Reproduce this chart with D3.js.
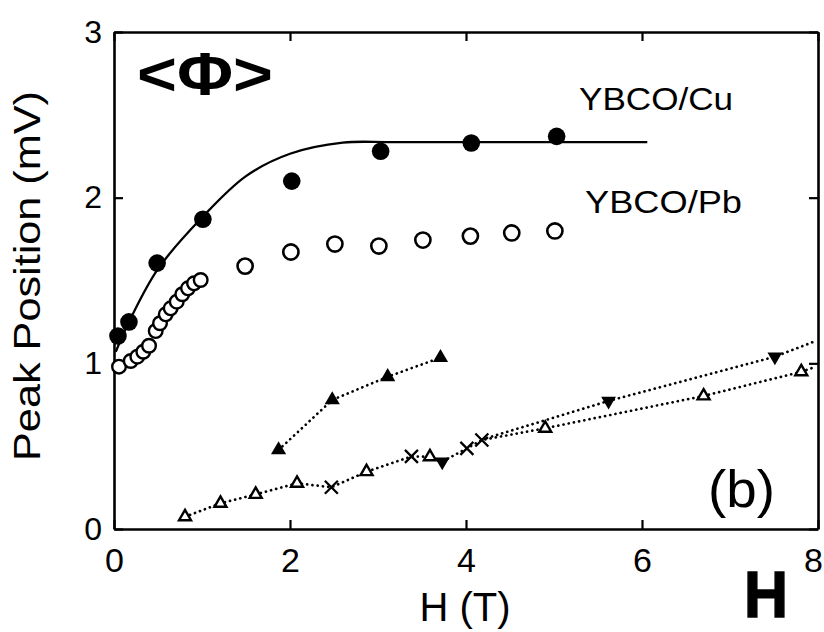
<!DOCTYPE html>
<html><head><meta charset="utf-8">
<script src="https://cdn.jsdelivr.net/npm/d3@7"></script>
<style>body{margin:0;background:#fff}svg{display:block}</style>
</head><body>
<svg id="c" width="824" height="632"></svg>
<script>
// ---- data ----
const xTicks = [0, 2, 4, 6, 8];
const yTicks = [0, 1, 2, 3];
const cuH   = [0.045, 0.17, 0.49, 1.01, 2.02, 3.03, 4.06, 5.03];
const cuV   = [1.165, 1.25, 1.605, 1.87, 2.10, 2.28, 2.33, 2.37];
const cuFitH = [0.02, 0.17, 0.5, 1.0, 1.5, 2.0, 2.6, 3.2, 6.06];
const cuFitV = [1.07, 1.25, 1.57, 1.88, 2.13, 2.265, 2.332, 2.335, 2.335];
const pbLowH = [0.057, 0.19, 0.265, 0.333, 0.398, 0.474, 0.523, 0.588, 0.644, 0.713, 0.776, 0.841, 0.909, 0.985];
const pbLowV = [0.980, 1.014, 1.040, 1.070, 1.106, 1.195, 1.242, 1.296, 1.332, 1.372, 1.417, 1.453, 1.483, 1.503];
const pbH   = [1.49, 2.01, 2.51, 3.01, 3.51, 4.05, 4.52, 5.01];
const pbV   = [1.587, 1.672, 1.72, 1.708, 1.744, 1.768, 1.787, 1.799];
const upFilledH = [1.87, 2.48, 3.11, 3.71];
const upFilledV = [0.477, 0.779, 0.919, 1.034];
const upOpenH = [0.807, 1.21, 1.61, 2.08, 2.87, 3.59, 4.90, 6.70, 7.81];
const upOpenV = [0.074, 0.155, 0.209, 0.276, 0.346, 0.436, 0.608, 0.803, 0.949];
const downH = [3.73, 5.62, 7.51];
const downV = [0.406, 0.773, 1.04];
const crossH = [2.47, 3.38, 4.01, 4.18];
const crossV = [0.252, 0.438, 0.487, 0.537];
const lowLineH = [0.807, 1.21, 1.61, 2.08, 2.47, 2.87, 3.38, 3.59, 3.73, 4.01, 4.18, 4.90, 6.70, 7.81, 7.95];
const lowLineV = [0.074, 0.155, 0.209, 0.276, 0.252, 0.346, 0.438, 0.436, 0.406, 0.487, 0.537, 0.608, 0.803, 0.949, 0.975];
const upLineH = [4.18, 5.62, 7.51, 7.95];
const upLineV = [0.54, 0.773, 1.04, 1.13];
const labels = {cu: "YBCO/Cu", pb: "YBCO/Pb", x: "H (T)", y: "Peak Position (mV)", panel: "(b)", phi: "<Φ>", h: "H"};

// ---- drawing ----
const svg = d3.select("#c");
const L = 114, R = 818, T = 32, B = 529;
const x = d3.scaleLinear().domain([0, 8]).range([L, R]);
const y = d3.scaleLinear().domain([0, 3]).range([B, T]);
const font = "'Liberation Sans', Arial, sans-serif";
const zip = (a, b) => a.map((v, i) => [v, b[i]]);

function styleAxis(g) {
  g.selectAll("path.domain").attr("stroke", "#000").attr("stroke-width", 2.6);
  g.selectAll(".tick line").attr("stroke", "#000").attr("stroke-width", 2.2);
}
svg.append("g").attr("transform", `translate(0,${B})`)
  .call(d3.axisBottom(x).tickValues(xTicks).tickSizeInner(-9).tickSizeOuter(0).tickPadding(12).tickFormat(d3.format("d")))
  .call(styleAxis)
  .call(g => g.selectAll(".tick text").attr("font-family", font).attr("font-size", 34).attr("fill", "#000").attr("dy", "0.9em")
    .attr("dx", d => d === 8 ? -5 : 0));
svg.append("g").attr("transform", `translate(0,${T})`)
  .call(d3.axisTop(x).tickValues(xTicks).tickSizeInner(-9).tickSizeOuter(0).tickFormat(""))
  .call(styleAxis);
svg.append("g").attr("transform", `translate(${L},0)`)
  .call(d3.axisLeft(y).tickValues(yTicks).tickSizeInner(-9).tickSizeOuter(0).tickPadding(12).tickFormat(d3.format("d")))
  .call(styleAxis)
  .call(g => g.selectAll(".tick text").attr("font-family", font).attr("font-size", 32).attr("fill", "#000"));
svg.append("g").attr("transform", `translate(${R},0)`)
  .call(d3.axisRight(y).tickValues(yTicks).tickSizeInner(-9).tickSizeOuter(0).tickFormat(""))
  .call(styleAxis);

// fit curve
svg.append("path").datum(zip(cuFitH, cuFitV))
  .attr("fill", "none").attr("stroke", "#000").attr("stroke-width", 2.3)
  .attr("d", d3.line().x(d => x(d[0])).y(d => y(d[1])).curve(d3.curveCatmullRom.alpha(0.5)));

// dotted lines
const dotted = (h, v) => svg.append("path").datum(zip(h, v))
  .attr("fill", "none").attr("stroke", "#000").attr("stroke-width", 2.7)
  .attr("stroke-linecap", "round").attr("stroke-dasharray", "0.1,5.2")
  .attr("d", d3.line().x(d => x(d[0])).y(d => y(d[1])));
dotted(upFilledH, upFilledV);
dotted(lowLineH, lowLineV);
dotted(upLineH, upLineV);

// markers
svg.append("g").selectAll("circle").data(zip(pbLowH, pbLowV)).join("circle")
  .attr("cx", d => x(d[0])).attr("cy", d => y(d[1])).attr("r", 6.8)
  .attr("fill", "#fff").attr("stroke", "#000").attr("stroke-width", 2.4);
svg.append("g").selectAll("circle").data(zip(cuH, cuV)).join("circle")
  .attr("cx", d => x(d[0])).attr("cy", d => y(d[1])).attr("r", 8.8).attr("fill", "#000");
svg.append("g").selectAll("circle").data(zip(pbH, pbV)).join("circle")
  .attr("cx", d => x(d[0])).attr("cy", d => y(d[1])).attr("r", 7.6)
  .attr("fill", "#fff").attr("stroke", "#000").attr("stroke-width", 2.6);

const tri = d3.symbol(d3.symbolTriangle);
svg.append("g").selectAll("path").data(zip(upFilledH, upFilledV)).join("path")
  .attr("transform", d => `translate(${x(d[0])},${y(d[1])})`)
  .attr("d", tri.size(100)()).attr("fill", "#000");
svg.append("g").selectAll("path").data(zip(upOpenH, upOpenV)).join("path")
  .attr("transform", d => `translate(${x(d[0])},${y(d[1])})`)
  .attr("d", tri.size(62)()).attr("fill", "#fff").attr("stroke", "#000").attr("stroke-width", 2.4);
svg.append("g").selectAll("path").data(zip(downH, downV)).join("path")
  .attr("transform", d => `translate(${x(d[0])},${y(d[1])}) rotate(180)`)
  .attr("d", tri.size(95)()).attr("fill", "#000");
svg.append("g").selectAll("path").data(zip(crossH, crossV)).join("path")
  .attr("transform", d => `translate(${x(d[0])},${y(d[1])})`)
  .attr("d", "M-6.5,-6.5L6.5,6.5M-6.5,6.5L6.5,-6.5").attr("stroke", "#000").attr("stroke-width", 2.3).attr("fill", "none");

// texts
svg.append("text").text(labels.cu).attr("x", 579).attr("y", 110)
  .attr("font-family", font).attr("font-size", 32).attr("textLength", 154).attr("lengthAdjust", "spacingAndGlyphs");
svg.append("text").text(labels.pb).attr("x", 585).attr("y", 213)
  .attr("font-family", font).attr("font-size", 31).attr("textLength", 157).attr("lengthAdjust", "spacingAndGlyphs");
svg.append("text").text(labels.x).attr("x", 465).attr("y", 621).attr("text-anchor", "middle")
  .attr("font-family", font).attr("font-size", 40);
svg.append("text").text(labels.y).attr("transform", "translate(40,276) rotate(-90)").attr("text-anchor", "middle")
  .attr("font-family", font).attr("font-size", 36).attr("textLength", 370).attr("lengthAdjust", "spacingAndGlyphs");
svg.append("text").text(labels.panel).attr("x", 708).attr("y", 507)
  .attr("font-family", font).attr("font-size", 52).attr("textLength", 67).attr("lengthAdjust", "spacingAndGlyphs");
svg.append("text").text(labels.phi).attr("x", 137).attr("y", 95)
  .attr("font-family", font).attr("font-weight", "bold").attr("font-size", 62)
  .attr("textLength", 136).attr("lengthAdjust", "spacingAndGlyphs");
svg.append("text").text(labels.h).attr("x", 744).attr("y", 617)
  .attr("font-family", font).attr("font-weight", "bold").attr("font-size", 64)
  .attr("stroke", "#000").attr("stroke-width", 1.5)
  .attr("textLength", 44).attr("lengthAdjust", "spacingAndGlyphs");
</script>
</body></html>
